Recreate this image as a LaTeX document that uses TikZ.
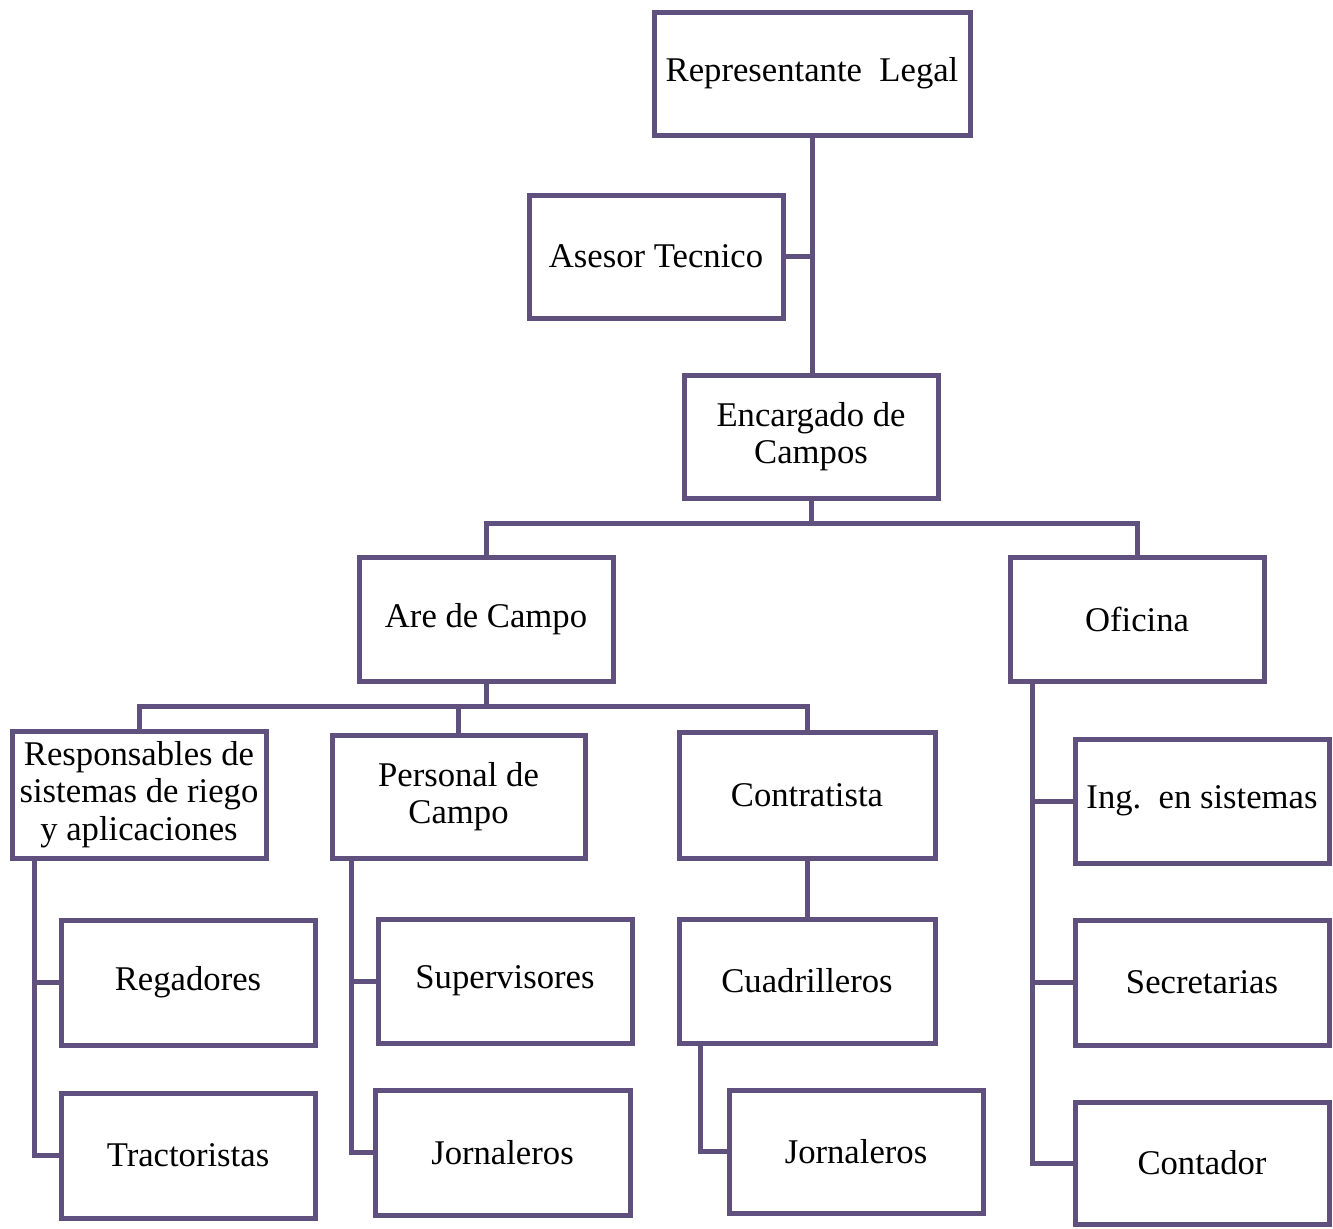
\documentclass[tikz,border=0pt]{standalone}
\usepackage{fontspec}
\setmainfont{Liberation Serif}
\usetikzlibrary{calc}
\definecolor{orgline}{RGB}{96,80,125}
\begin{document}
\begin{tikzpicture}[x=0.75pt,y=-0.75pt,
  unit/.style={draw=orgline,line width=3.75pt,fill=white,rectangle,inner sep=0pt,
    align=center,font=\fontsize{26}{28}\selectfont,text=black},
  link/.style={draw=orgline,line width=3.75pt,line cap=rect}]
\useasboundingbox[fill=white] (0,0) rectangle (1333,1228);

% top management
\node[unit,minimum width=316*0.75pt,minimum height=123*0.75pt] (rep) at (812,73.5) {Representante\ \ Legal};
\node[unit,minimum width=254*0.75pt,minimum height=123*0.75pt] (ase) at (656,256.5) {Asesor Tecnico};
\node[unit,minimum width=254*0.75pt,minimum height=123*0.75pt] (enc) at (811,436.5) {Encargado de\\Campos};

% areas
\node[unit,minimum width=254*0.75pt,minimum height=124*0.75pt] (are) at (486,619) {Are de Campo};
\node[unit,minimum width=254*0.75pt,minimum height=124*0.75pt] (ofi) at (1137,619) {Oficina};

% field area
\node[unit,minimum width=254*0.75pt,minimum height=127*0.75pt] (res) at (139,794.5) {Responsables de\\sistemas de riego\\y aplicaciones};
\node[unit,minimum width=253*0.75pt,minimum height=123*0.75pt] (per) at (458.5,796.5) {Personal de\\Campo};
\node[unit,minimum width=256*0.75pt,minimum height=126*0.75pt] (con) at (807,795) {Contratista};
\node[unit,minimum width=254*0.75pt,minimum height=125*0.75pt] (reg) at (188,982.5) {Regadores};
\node[unit,minimum width=254*0.75pt,minimum height=125*0.75pt] (tra) at (188,1155.5) {Tractoristas};
\node[unit,minimum width=254*0.75pt,minimum height=124*0.75pt] (sup) at (505,981) {Supervisores};
\node[unit,minimum width=255*0.75pt,minimum height=125*0.75pt] (jor1) at (502.5,1152.5) {Jornaleros};
\node[unit,minimum width=256*0.75pt,minimum height=124*0.75pt] (cua) at (807,981) {Cuadrilleros};
\node[unit,minimum width=254*0.75pt,minimum height=123*0.75pt] (jor2) at (856,1151.5) {Jornaleros};

% office
\node[unit,minimum width=254*0.75pt,minimum height=124*0.75pt] (ing) at (1202,801) {Ing.\ \ en sistemas};
\node[unit,minimum width=254*0.75pt,minimum height=125*0.75pt] (sec) at (1202,982.5) {Secretarias};
\node[unit,minimum width=254*0.75pt,minimum height=122*0.75pt] (cnt) at (1202,1163) {Contador};

% branch points
\coordinate (b1) at (811,523);
\coordinate (b2) at (486,706);

% connectors
\begin{scope}[on background layer/.style={}]
\draw[link] (rep.south) -- (rep.south |- enc.north);
\draw[link] (ase.east) -- (ase.east -| rep.south);
\draw[link] (enc.south) -- (b1);
\draw[link] (are.north) |- (b1) -| (ofi.north);
\draw[link] (are.south) -- (b2);
\draw[link] (res.north) |- (b2) -| (con.north);
\draw[link] (per.north) -- (per.north |- b2);
\draw[link] ($(res.south west)+(25,0)$) |- (reg.west);
\draw[link] ($(res.south west)+(25,0)$) |- (tra.west);
\draw[link] ($(per.south west)+(22,0)$) |- (sup.west);
\draw[link] ($(per.south west)+(22,0)$) |- (jor1.west);
\draw[link] (con.south) -- (cua.north);
\draw[link] ($(cua.south west)+(24,0)$) |- (jor2.west);
\draw[link] ($(ofi.south west)+(25,0)$) |- (ing.west);
\draw[link] ($(ofi.south west)+(25,0)$) |- (sec.west);
\draw[link] ($(ofi.south west)+(25,0)$) |- (cnt.west);
\end{scope}
\end{tikzpicture}
\end{document}
